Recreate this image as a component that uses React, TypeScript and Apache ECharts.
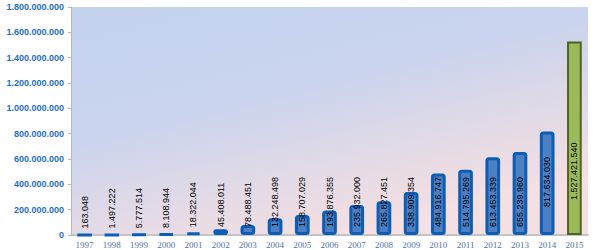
import React, { useEffect, useRef } from "react";
import * as echarts from "echarts";

const years = [
  "1997", "1998", "1999", "2000", "2001", "2002", "2003", "2004", "2005", "2006",
  "2007", "2008", "2009", "2010", "2011", "2012", "2013", "2014", "2015",
];
const values = [
  163048, 1497222, 5777514, 8108944, 18322044, 45408011, 78488451, 132248498,
  158707029, 193876355, 235932000, 265827451, 338909354, 484916747, 514795269,
  613453339, 655239960, 817634030, 1527421540,
];
const highlightYear = "2015";
const yMax = 1800000000;
const yInterval = 200000000;

const fmt = (v: number) =>
  Math.round(v).toString().replace(/\B(?=(\d{3})+(?!\d))/g, ".");

const labelDistance: Record<string, number> = { "2014": 28, "2015": 35 };

export default function App() {
  const ref = useRef<HTMLDivElement>(null);
  useEffect(() => {
    if (!ref.current) return;
    const chart = echarts.init(ref.current, undefined, { renderer: "svg" });
    const data = values.map((v, i) => {
      const y = years[i];
      const item: any = { value: v };
      if (y === highlightYear) {
        item.itemStyle = { color: "#9bbb59", borderColor: "#4f6228", borderWidth: 2, borderRadius: 0 };
      }
      if (labelDistance[y] !== undefined) {
        item.label = { distance: labelDistance[y] };
      }
      return item;
    });
    chart.setOption({
      animation: false,
      grid: {
        left: 71,
        right: 12,
        top: 7,
        bottom: 15,
        show: true,
        borderWidth: 0,
        backgroundColor: new echarts.graphic.LinearGradient(0, 0, 0.55, 1, [
          { offset: 0, color: "#c3d2ee" },
          { offset: 0.45, color: "#cad4ee" },
          { offset: 1, color: "#f6dfe0" },
        ]),
      },
      xAxis: {
        type: "category",
        data: years,
        axisLine: { show: true, lineStyle: { color: "#c4c4c4", width: 2 } },
        axisTick: { show: false },
        axisLabel: {
          color: "#4f73a6",
          fontFamily: "Liberation Serif",
          fontSize: 9,
          margin: 5,
          interval: 0,
        },
      },
      yAxis: {
        type: "value",
        min: 0,
        max: yMax,
        interval: yInterval,
        splitLine: { show: false },
        axisLine: { show: true, lineStyle: { color: "#b8b8b8", width: 1 } },
        axisTick: { show: true, length: 3, lineStyle: { color: "#b8b8b8" } },
        axisLabel: {
          color: "#1f6fc6",
          fontFamily: "Liberation Sans",
          fontWeight: "bold",
          fontSize: 9,
          margin: 7,
          formatter: (v: number) => fmt(v),
        },
      },
      series: [
        {
          type: "bar",
          data,
          barWidth: "54%",
          itemStyle: {
            color: "#4d7fc3",
            borderColor: "#0a5eb8",
            borderWidth: 3,
            borderRadius: 2,
          },
          label: {
            show: true,
            position: "insideBottom",
            rotate: 90,
            align: "left",
            verticalAlign: "middle",
            distance: 8,
            color: "#000",
            fontFamily: "Liberation Sans",
            fontSize: 9,
            formatter: (p: any) => fmt(p.value),
          },
        },
      ],
    });
    return () => chart.dispose();
  }, []);
  return (
    <div
      ref={ref}
      style={{ position: "fixed", left: 0, top: 0, width: 600, height: 250, background: "#fff" }}
    />
  );
}
